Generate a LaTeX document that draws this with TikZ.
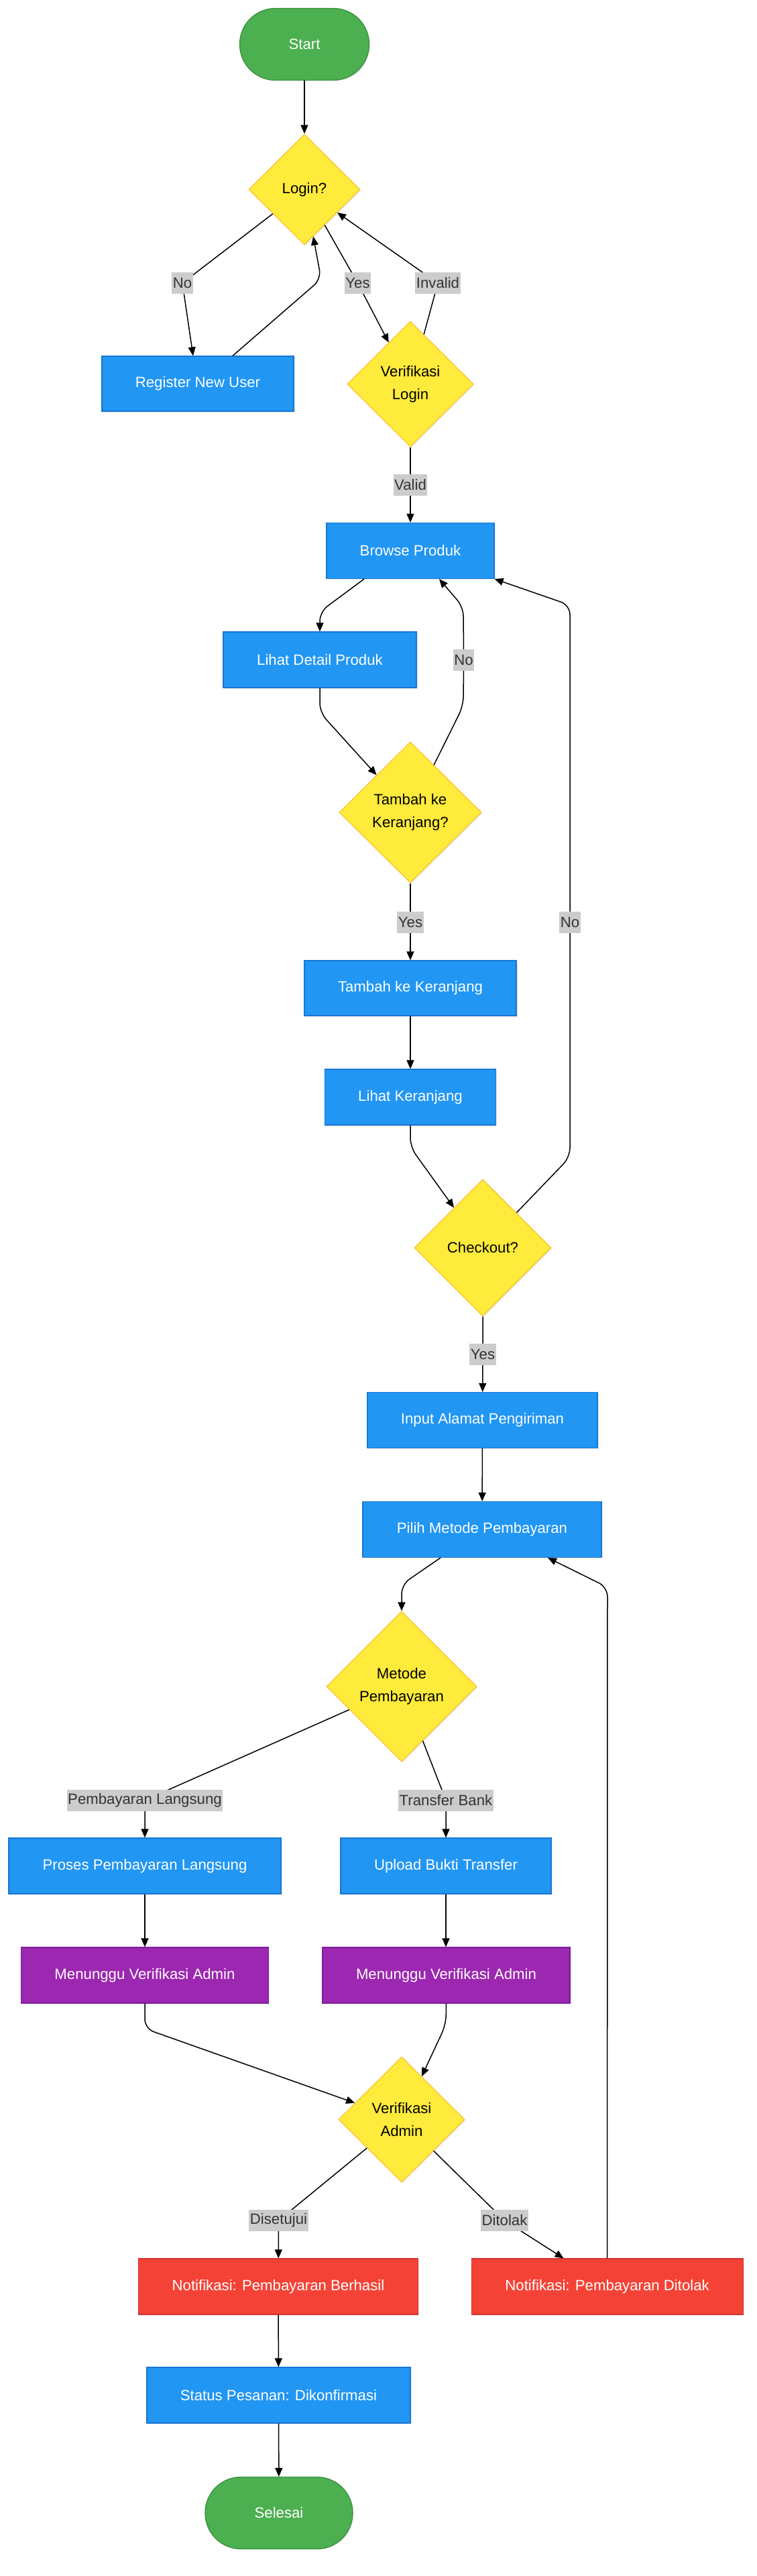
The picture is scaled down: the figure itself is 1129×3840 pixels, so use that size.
\documentclass[tikz,border=0pt]{standalone}
\usepackage{fontspec}
\setmainfont{Liberation Sans}
\usetikzlibrary{shapes.geometric,arrows.meta,shadows,calc}
\definecolor{gfill}{HTML}{4CAF50}
\definecolor{gdraw}{HTML}{388E3C}
\definecolor{bfill}{HTML}{2196F3}
\definecolor{bdraw}{HTML}{1976D2}
\definecolor{yfill}{HTML}{FFEB3B}
\definecolor{ydraw}{HTML}{FBC02D}
\definecolor{pfill}{HTML}{9C27B0}
\definecolor{pdraw}{HTML}{7B1FA2}
\definecolor{rfill}{HTML}{F44336}
\definecolor{rdraw}{HTML}{D32F2F}
\definecolor{lblbg}{HTML}{CCCCCC}
\definecolor{lbltx}{HTML}{333333}
\begin{document}
\begin{tikzpicture}[x=1pt,y=-1pt,
  base/.style={draw, line width=1.2pt, inner sep=0pt,
    font=\fontsize{22.2}{34}\selectfont,
    drop shadow={opacity=0.15, shadow xshift=1.5pt, shadow yshift=-1.5pt}},
  term/.style={base, rectangle, rounded corners=53pt, fill=gfill, draw=gdraw, text=white},
  proc/.style={base, rectangle, fill=bfill, draw=bdraw, text=white},
  wait/.style={base, rectangle, fill=pfill, draw=pdraw, text=white},
  notif/.style={base, rectangle, fill=rfill, draw=rdraw, text=white},
  dec/.style={base, diamond, aspect=1, fill=yfill, draw=ydraw, text=black, align=center},
  lbl/.style={fill=lblbg, text=lbltx, inner xsep=1.5pt, inner ysep=0pt,
    minimum height=32pt, font=\fontsize{22.2}{26}\selectfont},
  arr/.style={draw=black, line width=1.5pt, -{Triangle[length=13pt,width=11pt]}, rounded corners=14pt},
]
\useasboundingbox (0,0) rectangle (1129,3840);

% nodes
\node[term, minimum width=193pt, minimum height=107pt] (start) at (454,66) {Start};
\node[dec, minimum width=166pt, minimum height=165pt] (login) at (454,282.5) {Login?};
\node[proc, minimum width=286pt, minimum height=82pt] (reg) at (295,572) {Register New User};
\node[dec, minimum width=188pt, minimum height=187pt] (vl) at (612,572.5) {Verifikasi\\Login};
\node[proc, minimum width=250pt, minimum height=83pt] (browse) at (612,821) {Browse Produk};
\node[proc, minimum width=288pt, minimum height=83pt] (detail) at (477,983.5) {Lihat Detail Produk};
\node[dec, minimum width=212pt, minimum height=210pt] (tq) at (612,1211) {Tambah ke\\Keranjang?};
\node[proc, minimum width=316pt, minimum height=82pt] (tambah) at (612,1473) {Tambah ke Keranjang};
\node[proc, minimum width=255pt, minimum height=83pt] (lk) at (612,1635.5) {Lihat Keranjang};
\node[dec, minimum width=204pt, minimum height=204pt] (co) at (720,1860) {Checkout?};
\node[proc, minimum width=343pt, minimum height=83pt] (input) at (719.5,2117) {Input Alamat Pengiriman};
\node[proc, minimum width=356pt, minimum height=83pt] (pilih) at (719,2280) {Pilih Metode Pembayaran};
\node[dec, minimum width=224pt, minimum height=224pt] (metode) at (599,2514) {Metode\\Pembayaran};
\node[proc, minimum width=406pt, minimum height=83pt] (proses) at (216,2781.5) {Proses Pembayaran Langsung};
\node[proc, minimum width=314pt, minimum height=83pt] (upload) at (665,2781.5) {Upload Bukti Transfer};
\node[wait, minimum width=369pt, minimum height=83pt] (mL) at (216,2944.5) {Menunggu Verifikasi Admin};
\node[wait, minimum width=369pt, minimum height=83pt] (mR) at (665.5,2944.5) {Menunggu Verifikasi Admin};
\node[dec, minimum width=188pt, minimum height=187pt] (va) at (599,3159.5) {Verifikasi\\Admin};
\node[notif, minimum width=417pt, minimum height=83pt] (nb) at (415,3408.5) {Notifikasi: Pembayaran Berhasil};
\node[notif, minimum width=405pt, minimum height=83pt] (nd) at (905.6,3408.5) {Notifikasi: Pembayaran Ditolak};
\node[proc, minimum width=393pt, minimum height=83pt] (status) at (415.5,3570.5) {Status Pesanan: Dikonfirmasi};
\node[term, minimum width=220pt, minimum height=107pt] (selesai) at (416,3746) {Selesai};

% label positions
\coordinate (lNoA) at (272,422);
\coordinate (lYesA) at (533.5,422);
\coordinate (lInv) at (653,422);
\coordinate (lValid) at (612,723);
\coordinate (lNoB) at (691.5,983.5);
\coordinate (lYesB) at (612,1374.5);
\coordinate (lNoC) at (850,1374.5);
\coordinate (lYesC) at (720,2019);
\coordinate (lPL) at (216,2683.5);
\coordinate (lTB) at (665,2683.5);
\coordinate (lSet) at (415.5,3310);
\coordinate (lTol) at (752.5,3310);

% waypoints
\coordinate (wRegUp) at (479,416);
\coordinate (wBD) at (477,912);
\coordinate (wDT) at (477,1062);
\coordinate (wTB1) at (691,1052);
\coordinate (wTB2) at (691,905);
\coordinate (wLC) at (612,1710);
\coordinate (wCB1) at (850,1725);
\coordinate (wCB2) at (850,902);
\coordinate (wPM) at (599,2362);
\coordinate (wML) at (216,3024);
\coordinate (wMR) at (665,3018);
\coordinate (wDP) at (906,2366);

% connectors
\draw[arr] (start) -- (login);
\draw[arr] (login) -- (lNoA) -- ([xshift=-7pt]reg.north);
\draw[arr] ([xshift=52pt]reg.north) -- (wRegUp) -- (login);
\draw[arr] (login) -- (lYesA) -- (vl);
\draw[arr] (vl) -- (lInv) -- (login);
\draw[arr] (vl) -- (lValid) -- (browse);
\draw[arr] ([xshift=-69pt]browse.south) -- (wBD) -- (detail.north);
\draw[arr] (detail.south) -- (wDT) -- (tq);
\draw[arr] (tq) -- (wTB1) -- (lNoB) -- (wTB2) -- ([xshift=43pt]browse.south);
\draw[arr] (tq) -- (lYesB) -- (tambah);
\draw[arr] (tambah) -- (lk);
\draw[arr] (lk.south) -- (wLC) -- (co);
\draw[arr] (co) -- (wCB1) -- (lNoC) -- (wCB2) -- (browse.south east);
\draw[arr] (co) -- (lYesC) -- (input);
\draw[arr] (input) -- (pilih);
\draw[arr] ([xshift=-62pt]pilih.south) -- (wPM) -- (metode.north);
\draw[arr] (metode) -- (lPL) -- (proses);
\draw[arr] (metode) -- (lTB) -- (upload);
\draw[arr] (proses) -- (mL);
\draw[arr] (upload) -- (upload |- mR.north);
\draw[arr] (mL.south) -- (wML) -- (va);
\draw[arr] (mR.south) -- (wMR) -- (va);
\draw[arr] (va) -- (lSet) -- (nb);
\draw[arr] (va) -- (lTol) -- ([xshift=-65pt]nd.north);
\draw[arr] (nd.north) -- (wDP) -- ([xshift=98pt]pilih.south);
\draw[arr] (nb) -- (status);
\draw[arr] (status) -- (selesai);

% edge labels
\node[lbl] (tNoA) at (lNoA) {No};
\node[lbl] (tYesA) at (lYesA) {Yes};
\node[lbl] (tInv) at (lInv) {Invalid};
\node[lbl] (tValid) at (lValid) {Valid};
\node[lbl] (tNoB) at (lNoB) {No};
\node[lbl] (tYesB) at (lYesB) {Yes};
\node[lbl] (tNoC) at (lNoC) {No};
\node[lbl] (tYesC) at (lYesC) {Yes};
\node[lbl] (tPL) at (lPL) {Pembayaran Langsung};
\node[lbl] (tTB) at (lTB) {Transfer Bank};
\node[lbl] (tSet) at (lSet) {Disetujui};
\node[lbl] (tTol) at (lTol) {Ditolak};
\end{tikzpicture}
\end{document}
